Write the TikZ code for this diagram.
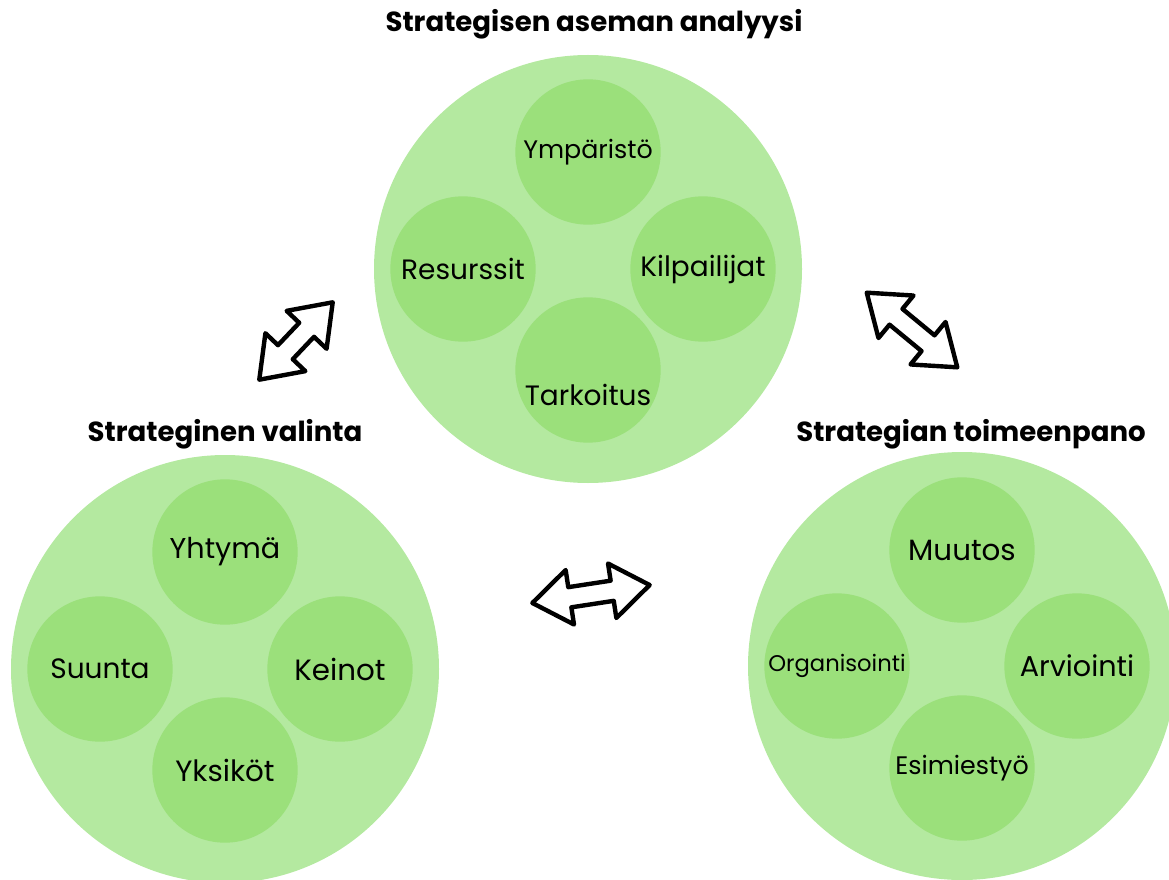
\documentclass[tikz,border=0pt]{standalone}
\usepackage{fontspec}
\setmainfont{Poppins}
\usetikzlibrary{shapes.arrows}
\definecolor{outergreen}{HTML}{B4E9A0}
\definecolor{innergreen}{HTML}{9BE07B}
\begin{document}
\begin{tikzpicture}[x=0.75pt, y=-0.75pt,
    outer/.style={circle, fill=outergreen, minimum size=321pt, inner sep=0pt},
    inner/.style={circle, fill=innergreen, minimum size=109pt, inner sep=0pt},
    heading/.style={font=\bfseries\fontsize{20.7}{24}\selectfont, anchor=base},
    twoway/.style={double arrow, draw=black, fill=white, line width=3.3pt,
      line join=round, minimum height=#1, minimum width=0pt, inner xsep=0pt,
      inner ysep=6pt, double arrow head extend=13pt, double arrow tip angle=72}]
  \useasboundingbox (0,0) rectangle (1169,880);
  % big circles
  \node[outer] (analyysi) at (588,269) {};
  \node[outer] (valinta) at (225,669) {};
  \node[outer] (toimeenpano) at (962,666) {};
  % headings
  \node[heading] (analyysi-t) at (594,32) {Strategisen aseman analyysi};
  \node[heading] (valinta-t) at (225,441) {Strateginen valinta};
  \node[heading] (toimeenpano-t) at (971,441) {Strategian toimeenpano};
  % small circles
  \foreach \p/\n/\t/\dx/\dy/\ty/\fs in {%
      analyysi/ymparisto/{Ympäristö}/0/-117/0/19,
      analyysi/resurssit/{Resurssit}/-125/0/0/21,
      analyysi/kilpailijat/{Kilpailijat}/115/0/0/21,
      analyysi/tarkoitus/{Tarkoitus}/0/101/25/21,
      valinta/yhtyma/{Yhtymä}/0/-117/0/21.5,
      valinta/suunta/{Suunta}/-125/0/0/21,
      valinta/keinot/{Keinot}/115/0/0/22,
      valinta/yksikot/{Yksiköt}/0/101/0/22,
      toimeenpano/muutos/{Muutos}/0/-116/0/22,
      toimeenpano/organisointi/{Organisointi}/-125/0/0/17,
      toimeenpano/arviointi/{Arviointi}/115/0/0/21.5,
      toimeenpano/esimiestyo/{Esimiestyö}/0/102/0/19} {
    \node[inner] (\n) at ([shift={(\dx,\dy)}]\p.center) {};
    \node[font=\fontsize{\fs}{\fs}\selectfont] (\n-t)
      at ([shift={(0,\ty)}]\n.center) {\t};
  }
  % arrows between the phases
  \node[twoway=80pt, rotate=46.5] (valinta-analyysi) at (296,341) {};
  \node[twoway=88pt, rotate=-39.5] (analyysi-toimeenpano) at (912,330) {};
  \node[twoway=89pt, rotate=8.7] (valinta-toimeenpano) at (591,594) {};
\end{tikzpicture}
\end{document}
